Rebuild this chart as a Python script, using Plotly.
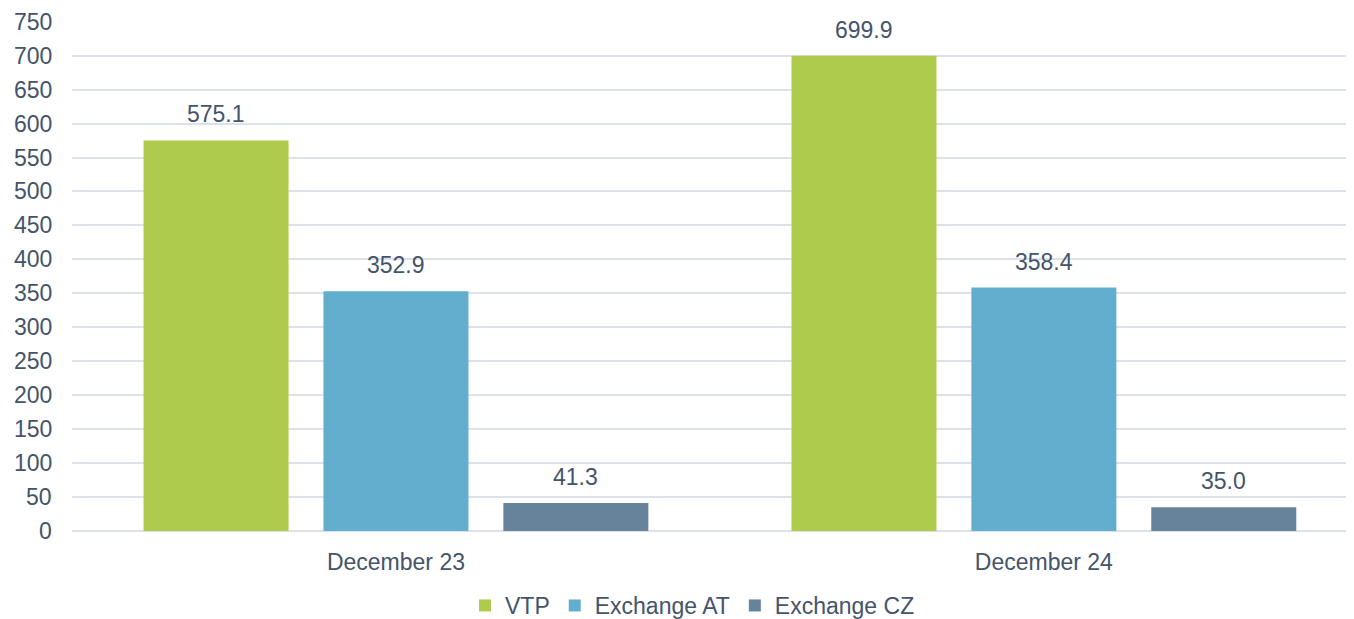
"""Grouped bar chart: VTP vs exchange volumes, December 23 / December 24."""

import plotly.graph_objects as go

categories = ["December 23", "December 24"]
series_names = ["VTP", "Exchange AT", "Exchange CZ"]
vtp = [575.1, 699.9]
exchange_at = [352.9, 358.4]
exchange_cz = [41.3, 35.0]
y_ticks = list(range(0, 751, 50))

colors = ["#aecb4c", "#62aecf", "#67829b"]
text_color = "#44546a"
font_family = "Liberation Sans, Arial, sans-serif"
font_size = 23

fig = go.Figure()

all_values = [vtp, exchange_at, exchange_cz]
for name, values, color in zip(series_names, all_values, colors):
    fig.add_trace(
        go.Bar(
            x=categories,
            y=values,
            name=name,
            marker=dict(color=color, line=dict(width=0)),
        )
    )

# Value labels sit well above each bar, as in the source chart
offsets = [-180, 0, 180]
for values, xshift in zip(all_values, offsets):
    for cat, val in zip(categories, values):
        fig.add_annotation(
            x=cat,
            y=val,
            text=f"{val:.1f}",
            showarrow=False,
            xshift=xshift,
            yshift=26,
            font=dict(size=font_size, color=text_color, family=font_family),
        )

# y tick labels as annotations: the top label sits too close to the edge
# and plotly would drop it as a regular tick label
for v in y_ticks:
    fig.add_annotation(
        x=0,
        xref="paper",
        y=v,
        yref="y",
        text=str(v),
        showarrow=False,
        xanchor="right",
        xshift=-18,
        font=dict(size=font_size, color=text_color, family=font_family),
    )

# page body adds an 8px offset, margins are reduced to compensate
fig.update_layout(
    width=1354,
    height=619,
    margin=dict(l=64, r=0, t=13, b=95),
    paper_bgcolor="white",
    plot_bgcolor="white",
    barmode="group",
    bargap=0.167,
    bargroupgap=0.194,
    font=dict(family=font_family, color=text_color, size=font_size),
    showlegend=True,
    legend=dict(
        orientation="h",
        x=0.481,
        xanchor="center",
        y=-0.145,
        yanchor="middle",
        font=dict(size=font_size, color=text_color),
        itemwidth=30,
        tracegroupgap=0,
    ),
    xaxis=dict(
        range=[-0.5, 1.491],
        showgrid=False,
        showline=False,
        ticks="",
        automargin=False,
        ticklabelstandoff=15,
        tickfont=dict(size=font_size, color=text_color),
    ),
    yaxis=dict(
        range=[0, 751],
        tickvals=y_ticks,
        showticklabels=False,
        showgrid=True,
        gridcolor="#dde2ea",
        gridwidth=2,
        zeroline=True,
        zerolinecolor="#dde2ea",
        zerolinewidth=2,
        ticks="",
        automargin=False,
    ),
)

fig.write_html("out.html")
